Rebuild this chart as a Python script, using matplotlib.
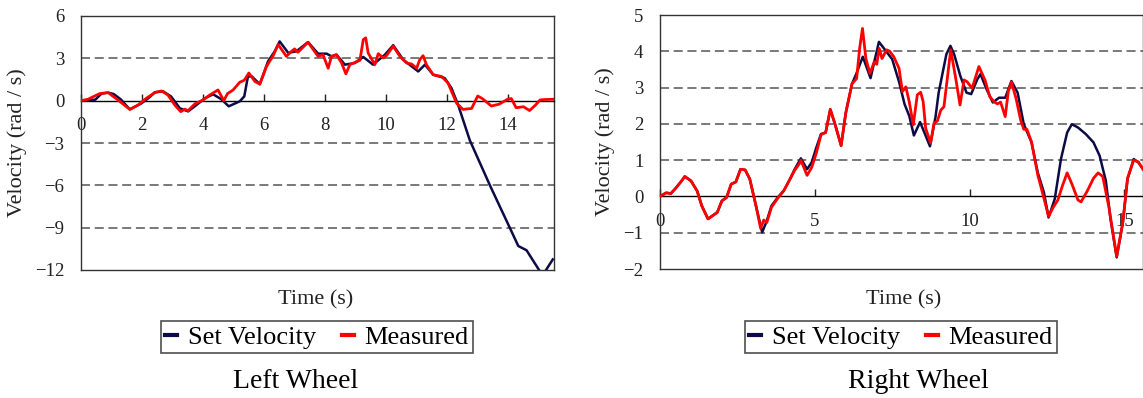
import matplotlib
matplotlib.use('Agg')
import matplotlib.pyplot as plt
from matplotlib.lines import Line2D

plt.rcParams['font.family'] = ['Liberation Serif', 'DejaVu Serif']
plt.rcParams['axes.unicode_minus'] = True

# ---- left wheel data ----
left_set_t = [0, 0.23, 0.47, 0.67, 0.89, 1.07, 1.3, 1.6, 1.98, 2.25, 2.42, 2.69, 2.95,
              3.24, 3.51, 3.78, 4.06, 4.33, 4.6, 4.84, 5.2, 5.35, 5.47, 5.6, 5.7, 5.86,
              6.13, 6.35, 6.51, 6.79, 7.06, 7.44, 7.77, 8.05, 8.21, 8.37, 8.65, 8.97,
              9.25, 9.57, 9.96, 10.23, 10.56, 11.05, 11.27, 11.54, 11.92, 12.14, 12.36,
              12.74, 13.4, 14.05, 14.33, 14.6, 15.04, 15.15, 15.46]
left_set_v = [0, 0.05, 0.07, 0.5, 0.57, 0.47, 0.1, -0.62, -0.19, 0.25, 0.6, 0.66, 0.3,
              -0.54, -0.76, -0.31, 0.17, 0.45, 0.1, -0.4, -0.05, 0.3, 1.71, 1.72, 1.5, 1.17,
              2.79, 3.5, 4.2, 3.39, 3.5, 4.15, 3.33, 3.33, 3.14, 3.26, 2.55, 2.67,
              3.1, 2.55, 3.26, 3.93, 2.9, 2.07, 2.55, 1.84, 1.6, 0.89, -0.31,
              -2.8, -6.0, -9.0, -10.3, -10.6, -12.1, -12.3, -11.25]

left_meas_t = [0, 0.23, 0.61, 0.89, 1.21, 1.6, 1.87, 2.14, 2.42, 2.64, 2.85, 3.07, 3.27,
               3.4, 3.51, 3.73, 4.0, 4.22, 4.49, 4.68, 4.8, 4.98, 5.2, 5.35, 5.5, 5.7,
               5.86, 6.08, 6.3, 6.46, 6.73, 6.9, 7.0, 7.11, 7.44, 7.77, 7.93, 8.1, 8.21,
               8.37, 8.54, 8.68, 8.81, 9.14, 9.25, 9.33, 9.41, 9.63, 9.74, 9.9, 10.01,
               10.23, 10.45, 10.67, 10.83, 11.0, 11.1, 11.21, 11.32, 11.54, 11.82, 12.03,
               12.31, 12.52, 12.8, 13.0, 13.15, 13.45, 13.7, 13.98, 14.1, 14.26, 14.5,
               14.7, 14.9, 15.04, 15.2, 15.5]
left_meas_v = [0, 0.1, 0.5, 0.57, 0.05, -0.62, -0.31, 0.17, 0.57, 0.69, 0.4, -0.3, -0.78,
               -0.6, -0.71, -0.23, 0.05, 0.4, 0.76, 0.0, 0.5, 0.75, 1.3, 1.45, 1.96, 1.36,
               1.17, 2.43, 3.2, 3.98, 3.14, 3.5, 3.67, 3.43, 4.14, 3.14, 3.26, 2.3, 3.14,
               3.26, 2.67, 1.9, 2.55, 2.86, 4.33, 4.45, 3.38, 2.55, 3.33, 3.03, 3.19,
               3.86, 3.14, 2.67, 2.6, 2.3, 2.9, 3.19, 2.55, 1.84, 1.71, 1.24,
               -0.19, -0.62, -0.55, 0.33, 0.15, -0.38, -0.25, 0.1, 0.15, -0.5, -0.43,
               -0.7, -0.3, 0.05, 0.08, 0.1]

# ---- right wheel data ----
right_set_t = [0, 0.2, 0.35, 0.5, 0.7, 0.8, 1.0, 1.2, 1.35, 1.55, 1.7, 1.85, 2.0, 2.15,
               2.3, 2.45, 2.6, 2.75, 2.9, 3.1, 3.3, 3.45, 3.6, 3.8, 4.0, 4.2, 4.35,
               4.55, 4.75, 4.9, 5.05, 5.2, 5.35, 5.5, 5.65, 5.85, 6.0, 6.2, 6.35, 6.55,
               6.8, 7.07, 7.25, 7.5, 7.72, 7.9, 8.05, 8.2, 8.4, 8.72, 8.9, 9.0, 9.25,
               9.38, 9.5, 9.7, 9.9, 10.05, 10.25, 10.35, 10.55, 10.75, 10.95, 11.15,
               11.35, 11.55, 11.75, 12.0, 12.2, 12.4, 12.55, 12.75, 12.95, 13.15, 13.3,
               13.5, 13.75, 14.0, 14.2, 14.4, 14.55, 14.75, 14.95, 15.1, 15.3, 15.45, 15.6]
right_set_v = [0, 0.1, 0.08, 0.22, 0.43, 0.55, 0.43, 0.15, -0.26, -0.62, -0.53, -0.44,
               -0.12, -0.03, 0.34, 0.4, 0.75, 0.73, 0.48, -0.26, -0.99, -0.67, -0.26,
               -0.03, 0.16, 0.48, 0.75, 1.05, 0.75, 0.94, 1.35, 1.72, 1.76, 2.4, 2.0,
               1.4, 2.3, 3.1, 3.4, 3.85, 3.26, 4.26, 4.06, 3.78, 3.16, 2.54, 2.22, 1.68,
               2.05, 1.38, 2.2, 2.86, 3.92, 4.15, 3.92, 3.32, 2.86, 2.82, 3.23, 3.37,
               2.95, 2.59, 2.72, 2.72, 3.18, 2.86, 1.99, 1.49, 0.66, 0.11, -0.58, -0.07,
               1.03, 1.76, 1.99, 1.9, 1.72, 1.49, 1.12, 0.43, -0.62, -1.68, -0.72, 0.48,
               1.03, 0.94, 0.75]

right_meas_t = [0, 0.2, 0.35, 0.5, 0.7, 0.8, 1.0, 1.2, 1.35, 1.55, 1.7, 1.85, 2.0, 2.15,
                2.3, 2.45, 2.6, 2.75, 2.9, 3.1, 3.25, 3.35, 3.45, 3.6, 3.8, 4.0, 4.2,
                4.35, 4.5, 4.55, 4.75, 4.9, 5.05, 5.2, 5.35, 5.5, 5.65, 5.85, 6.0, 6.2,
                6.35, 6.45, 6.54, 6.65, 6.78, 6.92, 7.0, 7.08, 7.17, 7.32, 7.42, 7.55,
                7.72, 7.83, 7.94, 8.05, 8.18, 8.31, 8.42, 8.5, 8.58, 8.74, 8.85, 8.96,
                9.07, 9.17, 9.39, 9.55, 9.69, 9.82, 9.92, 10.08, 10.3, 10.5, 10.65, 10.8,
                10.9, 11.0, 11.15, 11.25, 11.35, 11.5, 11.65, 11.75, 11.85, 12.0, 12.2,
                12.4, 12.55, 12.7, 12.85, 13.0, 13.15, 13.3, 13.5, 13.6, 13.8, 14.0,
                14.15, 14.3, 14.5, 14.75, 14.95, 15.1, 15.3, 15.45, 15.6]
right_meas_v = [0, 0.1, 0.08, 0.22, 0.43, 0.55, 0.43, 0.15, -0.26, -0.62, -0.53, -0.44,
                -0.12, -0.03, 0.34, 0.4, 0.75, 0.73, 0.48, -0.26, -0.88, -0.65, -0.72,
                -0.3, -0.05, 0.16, 0.48, 0.72, 0.9, 1.0, 0.58, 0.8, 1.2, 1.7, 1.76, 2.4,
                2.0, 1.4, 2.3, 3.1, 3.25, 4.1, 4.63, 3.8, 3.39, 3.71, 3.64, 4.08, 3.8,
                4.04, 4.0, 3.85, 3.53, 2.89, 3.02, 2.61, 1.97, 2.8, 2.87, 2.61, 1.88,
                1.47, 2.02, 2.08, 2.38, 2.47, 4.04, 3.26, 2.52, 3.21, 3.16, 2.98, 3.58,
                3.2, 2.75, 2.6, 2.55, 2.6, 2.2, 2.9, 3.15, 2.7, 2.1, 1.85, 1.85, 1.5,
                0.6, -0.05, -0.55, -0.3, -0.1, 0.3, 0.65, 0.35, -0.1, -0.15, 0.15, 0.5,
                0.65, 0.55, -0.3, -1.65, -0.7, 0.5, 1.0, 0.95, 0.75]

left_xticks = [0, 2, 4, 6, 8, 10, 12, 14]
left_yticks = [-12, -9, -6, -3, 0, 3, 6]
right_xticks = [0, 5, 10, 15]
right_yticks = [-2, -1, 0, 1, 2, 3, 4, 5]

NAVY = '#0b0b45'
RED = '#ff0000'

fig = plt.figure(figsize=(11.43, 3.98), dpi=100)
ax_l = fig.add_axes([81 / 1143, 128 / 398, 473 / 1143, 254 / 398])
ax_r = fig.add_axes([660 / 1143, 129 / 398, 483 / 1143, 254 / 398])


def style_axes(ax, xlim, ylim, xticks, yticks):
    ax.set_xlim(*xlim)
    ax.set_ylim(*ylim)
    ax.set_xticks(xticks)
    ax.set_yticks(yticks)
    # x axis crosses at zero, ticks point up into the plot
    ax.spines['bottom'].set_position(('data', 0))
    ax.spines['bottom'].set_linewidth(1.0)
    ax.spines['bottom'].set_color('black')
    for s in ['left', 'top', 'right']:
        ax.spines[s].set_color('#333333')
        ax.spines[s].set_linewidth(1.0)
    ax.plot([0, 1], [0, 0], transform=ax.transAxes, color='#333333', lw=1.0,
            clip_on=False, zorder=5)
    ax.tick_params(axis='x', direction='in', length=5, width=1, pad=12,
                   labelsize=13.5, colors='#222222')
    ax.tick_params(axis='y', length=0, pad=12, labelsize=13.5, colors='#222222')
    for y in yticks:
        if y not in (0, ylim[0], ylim[1]):
            ax.axhline(y, color='#6e6e6e', lw=1.3, dashes=(5, 2.6), zorder=1)
    ax.set_ylabel('Velocity (rad / s)', fontsize=16, labelpad=6, color='#222222')


style_axes(ax_l, (0, 15.5), (-12, 6), left_xticks, left_yticks)
style_axes(ax_r, (0, 15.6), (-2, 5), right_xticks, right_yticks)

ax_l.plot(left_set_t, left_set_v, color=NAVY, lw=1.8, zorder=3,
          solid_joinstyle='round')
ax_l.plot(left_meas_t, left_meas_v, color=RED, lw=2.0, zorder=4,
          solid_joinstyle='round')
ax_r.plot(right_set_t, right_set_v, color=NAVY, lw=1.8, zorder=3,
          solid_joinstyle='round')
ax_r.plot(right_meas_t, right_meas_v, color=RED, lw=2.0, zorder=4,
          solid_joinstyle='round')

handles = [Line2D([], [], color=NAVY, lw=3), Line2D([], [], color=RED, lw=3)]
labels = ['Set Velocity', 'Measured']

for xc, xt, xtitle, title in [(317, 316, 296, 'Left Wheel'),
                              (901, 904, 918, 'Right Wheel')]:
    fig.text(xt / 1143, 1 - 300 / 398, 'Time (s)', ha='center', va='center',
             fontsize=16, color='#222222')
    leg = fig.legend(handles, labels, loc='center', ncol=2,
                     bbox_to_anchor=(xc / 1143, 1 - 337 / 398),
                     fontsize=19, handlelength=0.45, handletextpad=0.4,
                     columnspacing=1.0, borderpad=0.15, frameon=True,
                     fancybox=False, edgecolor='#222222')
    leg.get_frame().set_linewidth(1.2)
    fig.text(xtitle / 1143, 1 - 382 / 398, title, ha='center', va='center',
             fontsize=20, color='black')

fig.savefig('out.png', dpi=100, facecolor='white')
